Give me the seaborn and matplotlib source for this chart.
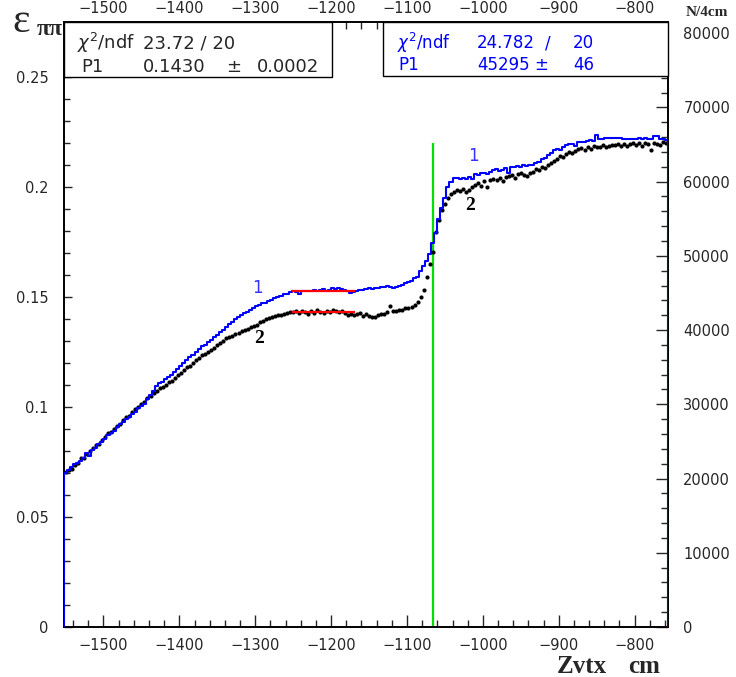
import numpy as np
import pandas as pd
import matplotlib
matplotlib.use("Agg")
import matplotlib.pyplot as plt
import seaborn as sns
from matplotlib.patches import Rectangle
from matplotlib.ticker import MultipleLocator, FuncFormatter

# ---- data: 4 cm bins in Zvtx starting at -1552 cm ----
bin_lo = -1552
bin_width = 4

# efficiency per bin (left axis)
eff = [
    0.0703, 0.0712, 0.0720, 0.0735, 0.0745, 0.0768, 0.0770, 0.0785, 0.0800, 0.0815,
    0.0826, 0.0832, 0.0850, 0.0862, 0.0880, 0.0885, 0.0898, 0.0915, 0.0925, 0.0940,
    0.0955, 0.0960, 0.0978, 0.0990, 0.1000, 0.1015, 0.1025, 0.1040, 0.1048, 0.1062,
    0.1075, 0.1086, 0.1092, 0.1100, 0.1112, 0.1120, 0.1132, 0.1145, 0.1155, 0.1170,
    0.1180, 0.1188, 0.1200, 0.1212, 0.1225, 0.1236, 0.1242, 0.1250, 0.1260, 0.1268,
    0.1280, 0.1290, 0.1302, 0.1314, 0.1318, 0.1325, 0.1332, 0.1338, 0.1345, 0.1350,
    0.1356, 0.1362, 0.1366, 0.1375, 0.1386, 0.1390, 0.1398, 0.1405, 0.1410, 0.1414,
    0.1418, 0.1420, 0.1425, 0.1427, 0.1430, 0.1432, 0.1436, 0.1428, 0.1438, 0.1430,
    0.1425, 0.1435, 0.1428, 0.1440, 0.1432, 0.1426, 0.1438, 0.1430, 0.1442, 0.1436,
    0.1430, 0.1438, 0.1428, 0.1420, 0.1425, 0.1418, 0.1422, 0.1428, 0.1415, 0.1425,
    0.1412, 0.1408, 0.1410, 0.1418, 0.1422, 0.1425, 0.1432, 0.1460, 0.1435, 0.1438,
    0.1440, 0.1442, 0.1448, 0.1450, 0.1455, 0.1465, 0.1478, 0.1500, 0.1530, 0.1590,
    0.1650, 0.1705, 0.1795, 0.1850, 0.1895, 0.1925, 0.1950, 0.1970, 0.1978, 0.1985,
    0.1980, 0.1990, 0.1978, 0.1985, 0.2000, 0.2010, 0.2018, 0.2005, 0.2025, 0.2000,
    0.2030, 0.2035, 0.2032, 0.2040, 0.2028, 0.2045, 0.2050, 0.2055, 0.2042, 0.2060,
    0.2065, 0.2055, 0.2048, 0.2062, 0.2070, 0.2080, 0.2078, 0.2090, 0.2085, 0.2100,
    0.2110, 0.2118, 0.2128, 0.2140, 0.2135, 0.2150, 0.2160, 0.2155, 0.2165, 0.2172,
    0.2176, 0.2168, 0.2180, 0.2175, 0.2185, 0.2180, 0.2183, 0.2190, 0.2180, 0.2188,
    0.2192, 0.2190, 0.2195, 0.2188, 0.2196, 0.2185, 0.2195, 0.2200, 0.2192, 0.2198,
    0.2185, 0.2200, 0.2196, 0.2168, 0.2202, 0.2195, 0.2190, 0.2205, 0.2200,
]

# events per 4 cm bin (right axis)
counts = [
    20700, 21200, 21500, 21900, 22100, 22300, 22700, 23400, 23100, 23800,
    24100, 24600, 24900, 25300, 25900, 26200, 26400, 26900, 27300, 27600,
    28000, 28300, 28700, 29000, 29500, 29800, 30100, 30700, 31300, 31800,
    32400, 32900, 33000, 33400, 33700, 34000, 34300, 34700, 35200, 35500,
    36000, 36400, 36700, 37000, 37400, 37800, 38000, 38400, 38700, 39000,
    39300, 39700, 40000, 40400, 40800, 41100, 41500, 41700, 42000, 42300,
    42500, 42700, 43000, 43200, 43400, 43600, 43700, 43900, 44100, 44300,
    44400, 44600, 44800, 44900, 45100, 45300, 45100, 44900, 45200, 45300,
    45300, 45200, 45400, 45250, 45350, 45500, 45300, 45450, 45600, 45500,
    45650, 45500, 45400, 45200, 45000, 45100, 45250, 45400, 45350, 45500,
    45600, 45550, 45700, 45650, 45800, 45750, 45900, 45800, 45700, 45850,
    45900, 46100, 46300, 46500, 46600, 47000, 47200, 47900, 48600, 49300,
    50300, 51700, 53100, 55000, 56400, 57800, 59300, 60000, 60500, 60500,
    60400, 60500, 60300, 60600, 60400, 61000, 60900, 61100, 61200, 61000,
    61300, 61500, 61700, 61400, 61600, 61800, 61200, 61900, 62000, 62100,
    62000, 62200, 62100, 62300, 62200, 62500, 62700, 63000, 63200, 63600,
    63900, 64200, 64400, 64300, 64700, 64900, 65000, 65100, 64800, 65300,
    65400, 65300, 65500, 65600, 65500, 66300, 65700, 65800, 65900, 65900,
    65900, 65900, 65900, 65900, 65800, 65800, 65800, 65700, 65800, 65900,
    65800, 65900, 65800, 65700, 66100, 66200, 65800, 65700, 65600,
]

# constant fits over the plateau
fit_lo, fit_hi = -1252, -1168
fit_eff = 0.1430
fit_counts = 45295
cut_z = -1066
cut_top = 0.22

x_major = [-1500, -1400, -1300, -1200, -1100, -1000, -900, -800]

edges = bin_lo + bin_width * np.arange(len(counts) + 1)
centers = edges[:-1] + bin_width / 2
df = pd.DataFrame({"z": centers, "eff": eff, "n": counts})

# ---- style ----
sns.set_style("white")
plt.rcParams["font.family"] = ["DejaVu Sans"]
plt.rcParams["mathtext.fontset"] = "dejavusans"

W, H = 736, 677
fig = plt.figure(figsize=(W / 100, H / 100), dpi=100)
L, R, T, B = 64, 668, 22, 627
ax = fig.add_axes([L / W, 1 - B / H, (R - L) / W, (B - T) / H])
ax2 = ax.twinx()
ax2.xaxis.set_visible(True)

BLUE = "#0000ff"

# efficiency points
sns.scatterplot(data=df, x="z", y="eff", ax=ax, color="black", s=9, linewidth=0, zorder=3)
ax.hlines(fit_eff, fit_lo, fit_hi, color="red", lw=1.6, zorder=4)
ax.vlines(cut_z, 0, cut_top, color="#00e000", lw=1.6, zorder=2)

# event histogram
sns.histplot(data=df, x="z", weights="n", binwidth=bin_width,
             binrange=(float(edges[0]), float(edges[-1])), element="step", fill=False,
             color=BLUE, linewidth=1.5, ax=ax2, zorder=3)
ax2.vlines([edges[0]], 0, counts[0], color=BLUE, lw=1.5, zorder=3)
ax2.vlines([edges[-1]], 0, counts[-1], color=BLUE, lw=1.5, zorder=3)
ax2.hlines(fit_counts, fit_lo, fit_hi, color="red", lw=1.6, zorder=4)

# axis ranges
ax.set_xlim(edges[0], edges[-1])
ax.set_ylim(0, 0.275)
ax2.set_ylim(0, 81500)
for a in (ax, ax2):
    a.set_xlabel("")
    a.set_ylabel("")

ax.set_xticks(x_major)
ax.xaxis.set_minor_locator(MultipleLocator(20))
ax2.set_xticks(x_major)
ax2.xaxis.set_minor_locator(MultipleLocator(20))
ax.yaxis.set_major_locator(MultipleLocator(0.05))
ax.yaxis.set_minor_locator(MultipleLocator(0.01))
ax.yaxis.set_major_formatter(FuncFormatter(lambda v, p: "%g" % round(v, 3)))
ax2.yaxis.set_major_locator(MultipleLocator(10000))
ax2.yaxis.set_minor_locator(MultipleLocator(2000))
ax2.yaxis.set_major_formatter(FuncFormatter(lambda v, p: "%d" % v))

# bottom x axis on ax, top x axis on the twin (same ticks, own label offset)
ax.tick_params(axis="x", which="both", direction="in", top=False, bottom=True,
               labeltop=False, labelbottom=True, labelsize=10.5, width=1)
ax.tick_params(axis="x", which="major", length=8.5, pad=8)
ax.tick_params(axis="x", which="minor", length=4.8)
ax2.tick_params(axis="x", which="both", direction="in", top=True, bottom=False,
                labeltop=True, labelbottom=False, labelsize=10.5, width=1)
ax2.tick_params(axis="x", which="major", length=8.5, pad=4)
ax2.tick_params(axis="x", which="minor", length=4.8)

ax.tick_params(axis="y", which="both", direction="in", left=True, right=False,
               labelsize=10.5, width=1)
ax.tick_params(axis="y", which="major", length=5.5, pad=11)
ax.tick_params(axis="y", which="minor", length=4)
ax2.tick_params(axis="y", which="both", direction="in", right=True, left=False,
                labelsize=10.5, width=1)
ax2.tick_params(axis="y", which="major", length=8.5, pad=11)
ax2.tick_params(axis="y", which="minor", length=4.8)

for a in (ax, ax2):
    for s in a.spines.values():
        s.set_color("black")
        s.set_linewidth(1.2)

# curve labels
ax.text(-1297, 0.1540, "1", color="#3333ff", fontsize=12, ha="center", va="center",
        family="DejaVu Sans")
ax.text(-1013, 0.2140, "1", color="#3333ff", fontsize=12, ha="center", va="center",
        family="DejaVu Sans")
ax.text(-1295, 0.1310, "2", color="black", fontsize=14, fontweight="bold",
        ha="center", va="center", family="Liberation Serif")
ax.text(-1017, 0.1915, "2", color="black", fontsize=14, fontweight="bold",
        ha="center", va="center", family="Liberation Serif")


def fx(px):
    return px / W


def fy(py):
    return 1 - py / H


# statistics boxes
for x0, x1, y1 in ((L, 332, 77), (383, R, 76)):
    fig.patches.append(Rectangle((fx(x0), fy(y1)), fx(x1) - fx(x0), fy(T) - fy(y1),
                                 transform=fig.transFigure, facecolor="white",
                                 edgecolor="black", lw=1.0, zorder=5))

fsl = 13
row_a, row_b = 43, 67
fig.text(fx(77), fy(row_a), r"$\chi^{2}$/ndf", fontsize=fsl, va="center", zorder=6)
fig.text(fx(143), fy(row_a), "23.72 / 20", fontsize=fsl, va="center", zorder=6)
fig.text(fx(81), fy(row_b), "P1", fontsize=fsl, va="center", zorder=6)
fig.text(fx(143), fy(row_b), "0.1430", fontsize=fsl, va="center", zorder=6)
fig.text(fx(226), fy(row_b), "\u00b1", fontsize=fsl, va="center", zorder=6)
fig.text(fx(257), fy(row_b), "0.0002", fontsize=fsl, va="center", zorder=6)

fsr = 12
row_c, row_d = 43, 65
fig.text(fx(397), fy(row_c), r"$\chi^{2}$/ndf", fontsize=fsr, va="center",
         color=BLUE, zorder=6)
fig.text(fx(477), fy(row_c), "24.782", fontsize=fsr, va="center", color=BLUE, zorder=6)
fig.text(fx(545), fy(row_c), "/", fontsize=fsr, va="center", color=BLUE, zorder=6)
fig.text(fx(573), fy(row_c), "20", fontsize=fsr, va="center", color=BLUE, zorder=6)
fig.text(fx(398), fy(row_d), "P1", fontsize=fsr, va="center", color=BLUE, zorder=6)
fig.text(fx(477), fy(row_d), "45295", fontsize=fsr, va="center", color=BLUE, zorder=6)
fig.text(fx(534), fy(row_d), "\u00b1", fontsize=fsr, va="center", color=BLUE, zorder=6)
fig.text(fx(573), fy(row_d), "46", fontsize=fsr, va="center", color=BLUE, zorder=6)

# axis titles
fig.text(fx(12), fy(32), "\u03b5", fontsize=30, va="baseline", ha="left",
         family="Liberation Serif")
fig.text(fx(37), fy(35), "\u03c0\u03c0", fontsize=17, va="baseline", ha="left",
         family="Liberation Serif", fontweight="bold")
fig.text(fx(707), fy(12), "N/4cm", fontsize=11, va="center", ha="center",
         family="Liberation Serif", fontweight="bold")
fig.text(fx(557), fy(673), "Zvtx", fontsize=18, va="baseline", ha="left",
         family="Liberation Serif", fontweight="bold")
fig.text(fx(660), fy(673), "cm", fontsize=18, va="baseline", ha="right",
         family="Liberation Serif", fontweight="bold")

fig.savefig("out.png", dpi=100)
